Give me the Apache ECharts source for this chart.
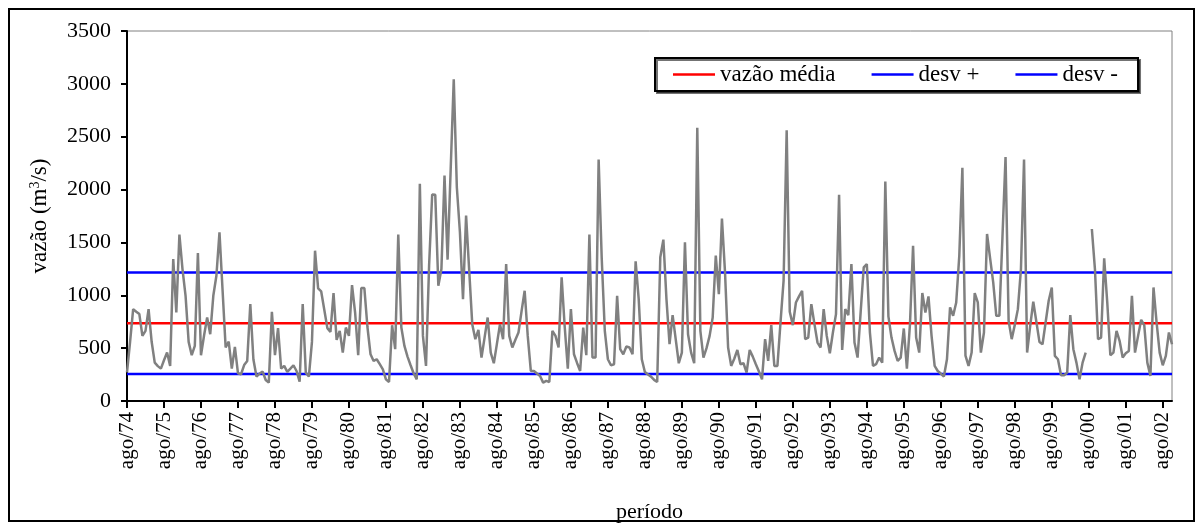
<!DOCTYPE html>
<html>
<head>
<meta charset="utf-8">
<script src="https://cdn.jsdelivr.net/npm/echarts@6/dist/echarts.min.js"></script>
<style>
  html, body { margin: 0; padding: 0; background: #ffffff; }
  #chart { width: 1201px; height: 528px; }
</style>
</head>
<body>
<div id="chart"></div>
<script>
// Monthly streamflow (m³/s), August 1974 onward; null = missing month
const MONTHS = ['ago', 'set', 'out', 'nov', 'dez', 'jan', 'fev', 'mar', 'abr', 'mai', 'jun', 'jul'];
const START_YEAR = 1974;

const vazao = [
  270, 560, 869, 845, 822, 616, 663, 869, 560, 363, 330, 306,
  385, 458, 332, 1343, 837, 1574, 1248, 995, 559, 433, 521, 1400,
  433, 620, 790, 632, 995, 1185, 1596, 1050, 506, 562, 306, 512,
  262, 253, 340, 379, 916, 395, 231, 260, 278, 199, 174, 844,
  433, 689, 306, 332, 275, 306, 338, 284, 183, 916, 268, 231,
  559, 1422, 1065, 1036, 863, 689, 654, 1021, 578, 664, 458, 695,
  616, 1097, 837, 433, 1068, 1068, 700, 442, 379, 395, 348, 300,
  205, 180, 717, 490, 1574, 695, 521, 420, 338, 260, 205, 2054,
  616, 332, 1280, 1953, 1950, 1090, 1248, 2133, 1337, 2190, 3043, 2022,
  1596, 964, 1754, 1240, 727, 585, 673, 411, 600, 790, 458, 357,
  540, 727, 585, 1296, 616, 506, 580, 648, 850, 1043, 616, 284,
  284, 260, 237, 174, 190, 180, 664, 616, 506, 1169, 700, 306,
  869, 442, 360, 284, 695, 433, 1574, 411, 411, 2285, 1350, 664,
  395, 338, 348, 995, 490, 442, 515, 506, 442, 1321, 964, 395,
  275, 250, 231, 200, 180, 1359, 1526, 964, 537, 812, 585, 357,
  458, 1501, 632, 458, 357, 2585, 664, 411, 500, 616, 790, 1375,
  1011, 1725, 1217, 506, 332, 400, 483, 348, 357, 268, 483, 420,
  348, 280, 205, 585, 379, 717, 332, 332, 743, 1138, 2560, 844,
  717, 932, 990, 1043, 585, 600, 916, 730, 553, 506, 869, 616,
  452, 648, 822, 1950, 483, 869, 812, 1296, 553, 411, 840, 1264,
  1296, 648, 332, 348, 411, 363, 2076, 800, 600, 474, 379, 411,
  686, 306, 727, 1469, 600, 458, 1021, 837, 989, 616, 332, 284,
  260, 231, 395, 885, 806, 932, 1375, 2206, 430, 332, 458, 1021,
  932, 458, 648, 1580, 1350, 1122, 806, 806, 1550, 2307, 758, 585,
  720, 869, 1248, 2285, 458, 711, 939, 750, 559, 537, 743, 948,
  1074, 427, 395, 243, 243, 268, 812, 490, 363, 205, 363, 458,
  null, 1627, 1248, 585, 600, 1349, 932, 433, 458, 664, 569, 411,
  452, 474, 995, 458, 616, 768, 717, 363, 237, 1074, 743, 458,
  338, 427, 648, 537
];

// Reference levels: mean flow and mean ± one standard deviation
const vazaoMedia = 735;
const desvMais = 1215;
const desvMenos = 255;

const yTicks = { min: 0, max: 3500, step: 500 };

// Category labels "mmm/yy"; each hydrological year starts in August
const categorias = vazao.map((_, i) => {
  const yr = START_YEAR + Math.floor(i / 12);
  return MONTHS[i % 12] + '/' + String(yr % 100).padStart(2, '0');
});

const primeira = categorias[0];
const ultima = categorias[categorias.length - 1];
const nivel = v => [[primeira, v], [ultima, v]];

const FONT = '"Liberation Serif", "Times New Roman", serif';

const chart = echarts.init(document.getElementById('chart'), null, { renderer: 'canvas' });

chart.setOption({
  animation: false,
  backgroundColor: '#ffffff',
  textStyle: { fontFamily: FONT, color: '#000' },
  grid: {
    left: 127, right: 29, top: 31, bottom: 127,
    show: true, borderColor: '#808080', borderWidth: 1, backgroundColor: 'transparent'
  },
  graphic: [{
    type: 'rect', left: 8, top: 8, z: -1,
    shape: { width: 1185, height: 512 },
    style: { fill: 'transparent', stroke: '#000', lineWidth: 2 }
  }],
  legend: {
    data: ['vazão média', 'desv +', 'desv -'],
    left: 655, top: 58,
    orient: 'horizontal',
    icon: 'rect',
    itemWidth: 42, itemHeight: 2.5,
    itemGap: 36,
    padding: [5, 20, 5, 18],
    borderColor: '#000', borderWidth: 2,
    backgroundColor: '#fff',
    shadowColor: 'rgba(0,0,0,0.55)', shadowOffsetX: 2, shadowOffsetY: 2, shadowBlur: 0,
    textStyle: { fontFamily: FONT, fontSize: 23, color: '#000' },
    selectedMode: false
  },
  xAxis: {
    type: 'category',
    data: categorias,
    boundaryGap: false,
    name: 'período',
    nameLocation: 'middle',
    nameGap: 100,
    nameTextStyle: { fontFamily: FONT, fontSize: 22, color: '#000' },
    axisLine: { lineStyle: { color: '#000', width: 2 } },
    axisTick: { show: true, interval: 11, length: 7, lineStyle: { color: '#000', width: 2 } },
    axisLabel: { interval: 11, rotate: 90, margin: 11, fontFamily: FONT, fontSize: 21, color: '#000' },
    splitLine: { show: false }
  },
  yAxis: {
    type: 'value',
    min: yTicks.min, max: yTicks.max, interval: yTicks.step,
    name: '{t|vazão (m}{s|3}{t|/s)}',
    nameLocation: 'middle',
    nameRotate: 90,
    nameGap: 76,
    nameTextStyle: {
      rich: {
        t: { fontFamily: FONT, fontSize: 23, color: '#000' },
        s: { fontFamily: FONT, fontSize: 14, color: '#000', verticalAlign: 'top', padding: [0, 0, 9, 0] }
      }
    },
    axisLine: { show: true, lineStyle: { color: '#000', width: 2 } },
    axisTick: { show: true, length: 6, lineStyle: { color: '#000', width: 2 } },
    axisLabel: {
      margin: 16, fontFamily: FONT, fontSize: 22, color: '#000',
      formatter: v => String(v)
    },
    splitLine: { show: false }
  },
  series: [
    {
      name: 'vazão',
      type: 'line',
      data: vazao,
      showSymbol: false,
      connectNulls: false,
      lineStyle: { color: '#808080', width: 2.5 },
      itemStyle: { color: '#808080' },
      z: 3
    },
    {
      name: 'vazão média', type: 'line', data: nivel(vazaoMedia), showSymbol: false,
      lineStyle: { color: '#ff0000', width: 2.5 }, itemStyle: { color: '#ff0000' }, z: 2
    },
    {
      name: 'desv +', type: 'line', data: nivel(desvMais), showSymbol: false,
      lineStyle: { color: '#0000ff', width: 2.5 }, itemStyle: { color: '#0000ff' }, z: 2
    },
    {
      name: 'desv -', type: 'line', data: nivel(desvMenos), showSymbol: false,
      lineStyle: { color: '#0000ff', width: 2.5 }, itemStyle: { color: '#0000ff' }, z: 2
    }
  ]
});
</script>
</body>
</html>
